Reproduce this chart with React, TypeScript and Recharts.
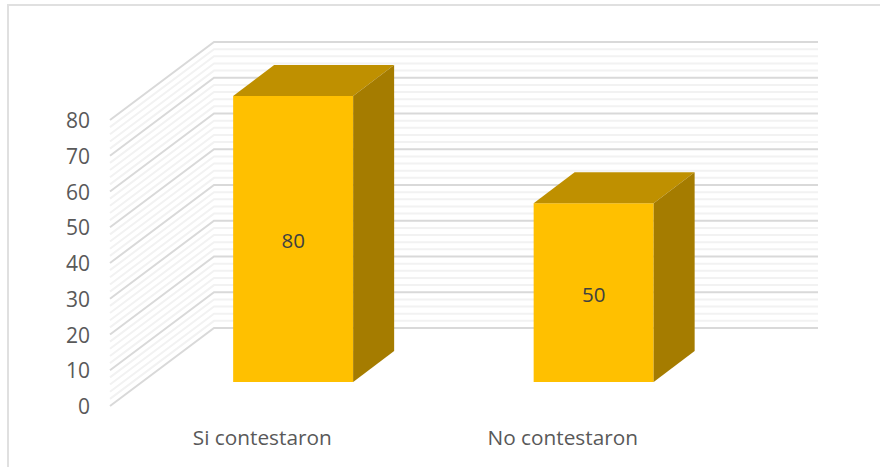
import { Bar, BarChart, CartesianGrid, LabelList, XAxis, YAxis } from "recharts";

const categories = ["Si contestaron", "No contestaron"];
const values = [80, 50];
const yTicks = [0, 10, 20, 30, 40, 50, 60, 70, 80];
const gridValues = [
  0, 2, 4, 6, 8, 10, 12, 14, 16, 18, 20, 22, 24, 26, 28, 30, 32, 34, 36, 38, 40,
  42, 44, 46, 48, 50, 52, 54, 56, 58, 60, 62, 64, 66, 68, 70, 72, 74, 76, 78, 80,
];

const rows = categories.map((name, i) => ({ name, value: values[i] }));

const FONT = "'Open Sans', sans-serif";
const TEXT = "#595959";
// fake 3D: the bars sit on a plane between the side wall and the back wall
const DEPTH_X = 41;
const DEPTH_Y = 31;

function WallLine({ x1, y1, index }: any) {
  const major = index % 5 === 0;
  const points = [
    [x1 - 33, y1 + 24],
    [x1 + 71, y1 - 54],
    [x1 + 675, y1 - 54],
  ];
  return (
    <polyline
      points={points.map((p) => p.join(",")).join(" ")}
      fill="none"
      stroke={major ? "#d9d9d9" : "#f2f2f2"}
      strokeWidth={2}
    />
  );
}

function Box3D({ x, y, width, height }: any) {
  const r = x + width;
  const b = y + height;
  return (
    <g>
      <rect x={x} y={y} width={width} height={height} fill="#ffc000" />
      <polygon
        points={`${x},${y} ${x + DEPTH_X},${y - DEPTH_Y} ${r + DEPTH_X},${y - DEPTH_Y} ${r},${y}`}
        fill="#bf9000"
      />
      <polygon
        points={`${r},${y} ${r + DEPTH_X},${y - DEPTH_Y} ${r + DEPTH_X},${b - DEPTH_Y} ${r},${b}`}
        fill="#a57c00"
      />
    </g>
  );
}

function YTick({ y, payload }: any) {
  return (
    <text x={90} y={y + 24} dy={8} textAnchor="end" fontFamily={FONT} fontSize={21} fill={TEXT}>
      {payload.value}
    </text>
  );
}

function XTick({ x, payload }: any) {
  return (
    <text x={x - 31} y={445} textAnchor="middle" fontFamily={FONT} fontSize={20.8} fill={TEXT}>
      {payload.value}
    </text>
  );
}

export default function App() {
  return (
    <div
      style={{
        position: "absolute",
        left: 0,
        top: 0,
        width: 880,
        height: 467,
        overflow: "hidden",
        background: "#fff",
      }}
    >
      <div
        style={{
          position: "absolute",
          left: 7,
          top: 4,
          width: 880,
          height: 470,
          borderLeft: "2px solid #e0e0e0",
          borderTop: "2px solid #e0e0e0",
        }}
      />
      <BarChart
        width={880}
        height={467}
        data={rows}
        margin={{ top: 96, right: 136, bottom: 55, left: 83 }}
        barCategoryGap="30%"
        style={{ position: "absolute", left: 0, top: 0 }}
      >
        <CartesianGrid vertical={false} horizontal={WallLine} horizontalValues={gridValues} />
        <XAxis dataKey="name" height={30} axisLine={false} tickLine={false} tick={XTick} />
        <YAxis
          width={60}
          domain={[0, 80]}
          ticks={yTicks}
          interval={0}
          axisLine={false}
          tickLine={false}
          tick={YTick}
        />
        <Bar dataKey="value" shape={Box3D} isAnimationActive={false}>
          <LabelList
            dataKey="value"
            position="center"
            dy={2}
            fill="#404040"
            fontFamily={FONT}
            fontSize={20.5}
          />
        </Bar>
      </BarChart>
    </div>
  );
}
